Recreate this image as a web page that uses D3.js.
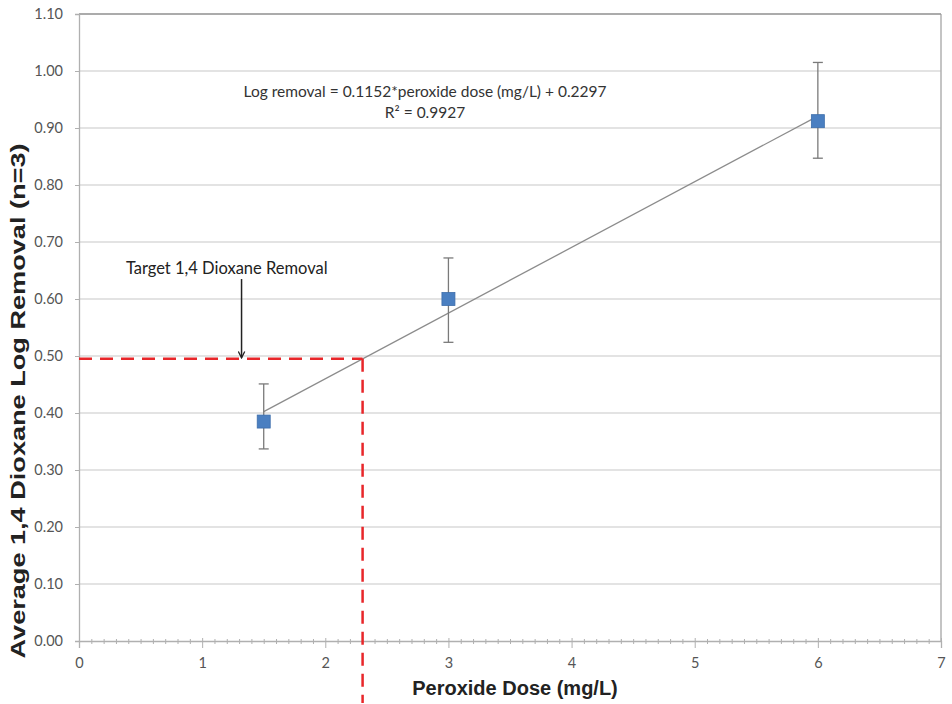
<!DOCTYPE html>
<html>
<head>
<meta charset="utf-8">
<script src="https://cdn.jsdelivr.net/npm/d3@7"></script>
<style>
    body { margin: 0; background: #fff; }
    text { font-family: Lato, "Open Sans", sans-serif; }
    .axisTitle { font-family: "Liberation Sans", Arial, sans-serif; font-weight: bold; fill: #222; }
</style>
</head>
<body>
<div id="chart"></div>
<script>
// data
var doses = [1.5, 3, 6];
var logRemoval = [0.385, 0.600, 0.912];
var errLow = [0.337, 0.524, 0.847];
var errHigh = [0.451, 0.672, 1.015];
var slope = 0.1152;
var intercept = 0.2297;
var targetRemoval = 0.495;
var arrowDose = 1.32;
var arrowTop = 0.635;
var xTicks = [0, 1, 2, 3, 4, 5, 6, 7];
var yTicks = [0, 0.1, 0.2, 0.3, 0.4, 0.5, 0.6, 0.7, 0.8, 0.9, 1.0, 1.1];

var width = 952, height = 704;
var margin = { left: 79, top: 14, right: 11, bottom: 63 };
var innerW = width - margin.left - margin.right;
var innerH = height - margin.top - margin.bottom;

var svg = d3.select('#chart').append('svg')
    .attr('width', width)
    .attr('height', height);

var defs = svg.append('defs');
defs.append('marker')
    .attr('id', 'arrow')
    .attr('viewBox', '0 0 10 10')
    .attr('refX', 9).attr('refY', 5)
    .attr('markerWidth', 8).attr('markerHeight', 8)
    .attr('markerUnits', 'userSpaceOnUse')
    .attr('orient', 'auto')
    .append('path')
    .attr('d', 'M1,1 L9,5 L1,9')
    .attr('fill', 'none')
    .attr('stroke', '#222')
    .attr('stroke-width', 1.6);

var g = svg.append('g').attr('transform', 'translate(' + margin.left + ',' + margin.top + ')');

var x = d3.scaleLinear().domain([0, 7]).range([0, innerW]);
var y = d3.scaleLinear().domain([0, 1.1]).range([innerH, 0]);

// gridlines
g.append('g').selectAll('line').data(yTicks.slice(1)).enter().append('line')
    .attr('x1', 0).attr('x2', innerW)
    .attr('y1', function (d) { return y(d); })
    .attr('y2', function (d) { return y(d); })
    .attr('stroke', '#c8c8c8')
    .attr('stroke-width', 1.2);

// right and top border
g.append('line')
    .attr('x1', innerW).attr('x2', innerW)
    .attr('y1', 0).attr('y2', innerH)
    .attr('stroke', '#b0b0b0').attr('stroke-width', 1.5);
g.append('line')
    .attr('x1', 0).attr('x2', innerW)
    .attr('y1', 0).attr('y2', 0)
    .attr('stroke', '#999').attr('stroke-width', 1.5);

// y axis
var yAxis = d3.axisLeft(y).tickValues(yTicks).tickFormat(d3.format('.2f')).tickSize(4).tickPadding(12);
var yAxisG = g.append('g').call(yAxis);
yAxisG.select('.domain').attr('stroke', '#b0b0b0').attr('stroke-width', 1.3);
yAxisG.selectAll('.tick line').attr('stroke', '#b0b0b0');
yAxisG.selectAll('.tick text').attr('fill', '#555').style('font-size', '14.5px');

// x axis, minor ticks every 0.1
var minor = d3.range(0, 70).map(function (i) { return i / 10; }).filter(function (d, i) { return i % 10 !== 0; });
var xAxisG = g.append('g').attr('transform', 'translate(0,' + innerH + ')');
xAxisG.append('g').call(d3.axisBottom(x).tickValues(minor).tickSize(4).tickFormat(''))
    .call(function (s) { s.select('.domain').remove(); })
    .selectAll('.tick line').attr('stroke', '#b0b0b0').attr('y1', -2).attr('y2', 3);
var xMajor = xAxisG.append('g').call(d3.axisBottom(x).tickValues(xTicks).tickSize(7).tickPadding(10).tickFormat(d3.format('d')));
xMajor.select('.domain').attr('stroke', '#b0b0b0').attr('stroke-width', 1.3);
xMajor.selectAll('.tick line').attr('stroke', '#b0b0b0').attr('y1', -3);
xMajor.selectAll('.tick text').attr('fill', '#555').style('font-size', '14.5px');

// trend line
var trendX = [d3.min(doses), d3.max(doses)];
g.append('line')
    .attr('x1', x(trendX[0])).attr('y1', y(slope * trendX[0] + intercept))
    .attr('x2', x(trendX[1])).attr('y2', y(slope * trendX[1] + intercept))
    .attr('stroke', '#8c8c8c').attr('stroke-width', 1.3);

// target lines
var targetDose = (targetRemoval - intercept) / slope;
g.append('line')
    .attr('x1', x(0)).attr('x2', x(targetDose))
    .attr('y1', y(targetRemoval)).attr('y2', y(targetRemoval))
    .attr('stroke', '#e8262a').attr('stroke-width', 2.5)
    .attr('stroke-dasharray', '13,8');
g.append('line')
    .attr('x1', x(targetDose)).attr('x2', x(targetDose))
    .attr('y1', y(targetRemoval)).attr('y2', innerH + 62)
    .attr('stroke', '#e8262a').attr('stroke-width', 2.5)
    .attr('stroke-dasharray', '13,8');

// error bars
var eb = g.append('g').selectAll('g').data(doses).enter().append('g');
eb.append('line')
    .attr('x1', function (d) { return x(d); }).attr('x2', function (d) { return x(d); })
    .attr('y1', function (d, i) { return y(errLow[i]); })
    .attr('y2', function (d, i) { return y(errHigh[i]); })
    .attr('stroke', '#7a7a7a').attr('stroke-width', 1.3);
[errLow, errHigh].forEach(function (arr) {
    eb.append('line')
        .attr('x1', function (d) { return x(d) - 5; }).attr('x2', function (d) { return x(d) + 5; })
        .attr('y1', function (d, i) { return y(arr[i]); })
        .attr('y2', function (d, i) { return y(arr[i]); })
        .attr('stroke', '#7a7a7a').attr('stroke-width', 1.3);
});

// markers
g.append('g').selectAll('rect').data(doses).enter().append('rect')
    .attr('x', function (d) { return x(d) - 6.5; })
    .attr('y', function (d, i) { return y(logRemoval[i]) - 6.5; })
    .attr('width', 13).attr('height', 13)
    .attr('fill', '#4a7fc1')
    .attr('stroke', '#3d6eab').attr('stroke-width', 0.8);

// equation
var eq = g.append('text')
    .attr('x', x(2.81)).attr('y', y(0.954))
    .attr('text-anchor', 'middle')
    .attr('fill', '#333')
    .style('font-size', '15.5px');
eq.append('tspan').text('Log removal = 0.1152*peroxide dose (mg/L) + 0.2297');
eq.append('tspan').attr('x', x(2.81)).attr('dy', 21).text('R² = 0.9927');

// annotation arrow
g.append('text')
    .attr('x', x(1.2)).attr('y', y(0.644))
    .attr('text-anchor', 'middle')
    .attr('fill', '#222')
    .style('font-size', '16.5px')
    .text('Target 1,4 Dioxane Removal');
g.append('line')
    .attr('x1', x(arrowDose)).attr('x2', x(arrowDose))
    .attr('y1', y(arrowTop)).attr('y2', y(targetRemoval) - 1)
    .attr('stroke', '#222').attr('stroke-width', 1.5)
    .attr('marker-end', 'url(#arrow)');

// axis titles
svg.append('text')
    .attr('class', 'axisTitle')
    .attr('x', 515).attr('y', 695)
    .attr('text-anchor', 'middle')
    .style('font-size', '20px')
    .text('Peroxide Dose (mg/L)');
svg.append('text')
    .attr('class', 'axisTitle')
    .attr('transform', 'translate(25,401) rotate(-90)')
    .attr('text-anchor', 'middle')
    .style('font-size', '21px')
    .attr('textLength', 515)
    .attr('lengthAdjust', 'spacingAndGlyphs')
    .text('Average 1,4 Dioxane Log Removal (n=3)');
</script>
</body>
</html>
